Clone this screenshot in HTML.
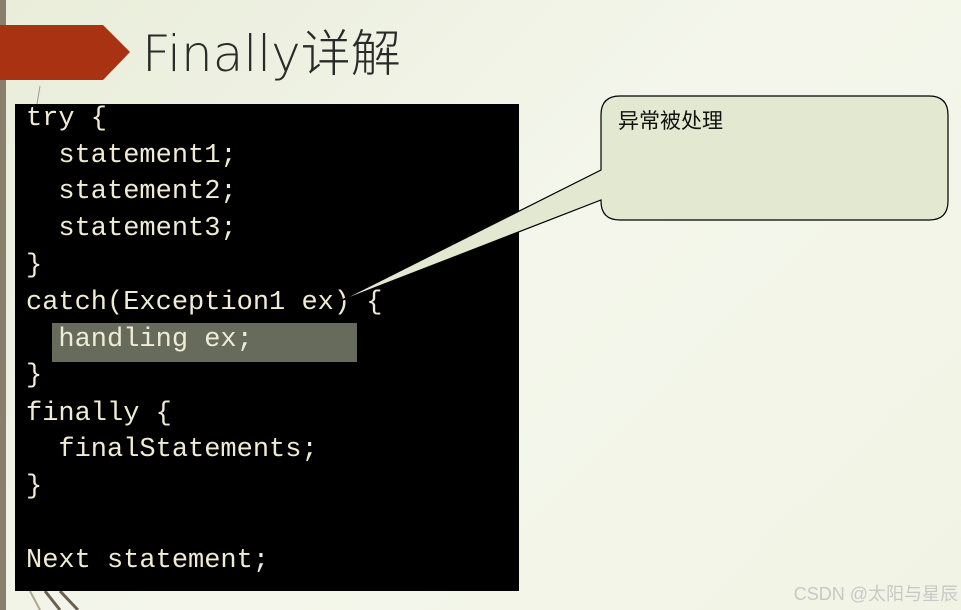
<!DOCTYPE html>
<html><head><meta charset="utf-8"><style>
html,body{margin:0;padding:0}
body{width:961px;height:610px;position:relative;overflow:hidden;background:linear-gradient(135deg,#e9edd9 0%,#f4f6ec 50%,#f1f4e4 100%);font-family:"Liberation Sans","Noto Sans CJK SC",sans-serif}
.code{position:absolute;left:15px;top:104px;width:504px;height:487px;background:#000}
.ln{position:absolute;left:26px;font-family:"Liberation Mono",monospace;font-size:27px;color:#efebd4;white-space:pre;line-height:30px}
</style></head><body>
<div style="position:absolute;left:0;top:0;width:6px;height:610px;background:#8a7f6a"></div>
<svg style="position:absolute;left:0;top:0" width="961" height="610">
<polygon points="0,25 103,25 130,52 103,80 0,80" fill="#a83212"/>
<line x1="40" y1="86" x2="37" y2="104" stroke="#999" stroke-width="1"/>
<line x1="45" y1="591" x2="60" y2="610" stroke="#6a6050" stroke-width="3"/>
<line x1="60" y1="591" x2="78" y2="610" stroke="#6a6050" stroke-width="3"/>
<line x1="30" y1="591" x2="40" y2="610" stroke="#b0a890" stroke-width="2"/>
</svg>
<div style="position:absolute;left:142px;top:14px;font-size:50px;color:#2a2a2a;font-family:'DejaVu Sans','Noto Sans CJK SC',sans-serif;font-weight:300">Finally详解</div>
<div class="code"></div>
<div style="position:absolute;left:52px;top:323px;width:305px;height:39px;background:#666b5c"></div>
<div class="ln" style="top:104px">try {</div>
<div class="ln" style="top:141px">  statement1;</div>
<div class="ln" style="top:177px">  statement2;</div>
<div class="ln" style="top:214px">  statement3;</div>
<div class="ln" style="top:251px">}</div>
<div class="ln" style="top:288px">catch(Exception1 ex) {</div>
<div class="ln" style="top:325px">  handling ex;</div>
<div class="ln" style="top:361px">}</div>
<div class="ln" style="top:399px">finally {</div>
<div class="ln" style="top:435px">  finalStatements;</div>
<div class="ln" style="top:472px">}</div>
<div class="ln" style="top:546px">Next statement;</div>
<svg style="position:absolute;left:0;top:0" width="961" height="610">
<path d="M620,96 H929 Q948,96 948,115 V201 Q948,220 929,220 H620 Q601,220 601,201 V200 L338,302 L601,170 V115 Q601,96 620,96 Z" fill="#e3e8d0" stroke="#000" stroke-width="1.2"/>
</svg>
<div style="position:absolute;left:618px;top:105px;font-size:21px;color:#111">异常被处理</div>
<div style="position:absolute;right:3px;top:580px;font-size:18px;color:#c8c8c8">CSDN @太阳与星辰</div>
</body></html>
